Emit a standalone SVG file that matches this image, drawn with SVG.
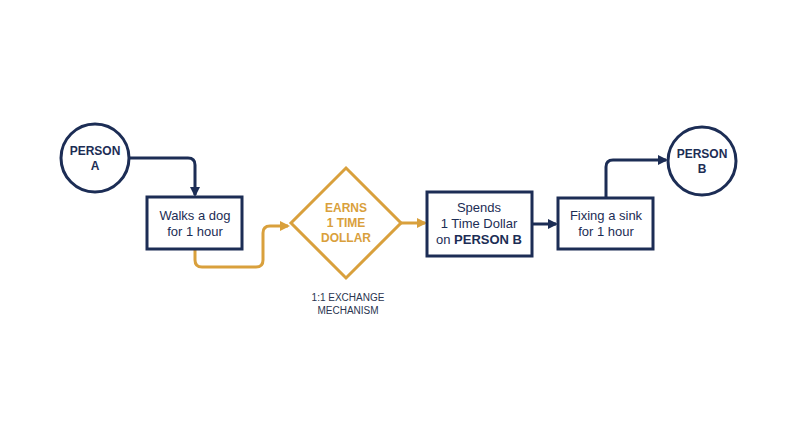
<svg xmlns="http://www.w3.org/2000/svg" width="800" height="447" viewBox="0 0 800 447">
<defs>
<style>
.navy{stroke:#1c2d55;fill:none;stroke-width:3}
.gold{stroke:#d9a03c;fill:none;stroke-width:3}
.node{fill:#fff;stroke:#1c2d55;stroke-width:3}
.t{font-family:"Liberation Sans","Open Sans",sans-serif;font-size:13px;fill:#1c2d55;text-anchor:middle}
.b{font-weight:bold;font-size:12px}
.g{fill:#d9a03c}
.s{font-size:10px;fill:#2a3550}
</style>
<marker id="an" markerWidth="10" markerHeight="10" refX="8" refY="5" orient="auto" markerUnits="userSpaceOnUse"><path d="M0,0 L10,5 L0,10 Z" fill="#1c2d55"/></marker>
<marker id="ag" markerWidth="10" markerHeight="10" refX="8" refY="5" orient="auto" markerUnits="userSpaceOnUse"><path d="M0,0 L10,5 L0,10 Z" fill="#d9a03c"/></marker>
</defs>
<rect width="800" height="447" fill="#fff"/>
<g id="connectors">
<path class="navy" d="M130,158 H188 Q195,158 195,165 V195" marker-end="url(#an)"/>
<path class="gold" d="M195,249 V260 Q195,267 202,267 H256 Q263,267 263,260 V233 Q263,226 270,226 H288" marker-end="url(#ag)"/>
<path class="gold" d="M401,223 H425" marker-end="url(#ag)"/>
<path class="navy" d="M532,224 H556" marker-end="url(#an)"/>
<path class="navy" d="M606,198 V167 Q606,160 613,160 H666" marker-end="url(#an)"/>
</g>
<g id="personA">
<circle class="node" cx="95" cy="158" r="34"/>
<text class="t b" x="95" y="155">PERSON</text>
<text class="t b" x="95" y="170">A</text>
</g>
<g id="walks">
<rect class="node" x="147" y="197" width="95" height="52"/>
<text class="t" x="195" y="220">Walks a dog</text>
<text class="t" x="195" y="236">for 1 hour</text>
</g>
<g id="earns">
<path d="M346,168 L401,223 L346,278 L291,223 Z" fill="#fff" stroke="#d9a03c" stroke-width="3"/>
<text class="t b g" x="346" y="212">EARNS</text>
<text class="t b g" x="346" y="227">1 TIME</text>
<text class="t b g" x="346" y="242">DOLLAR</text>
</g>
<g id="exchange">
<text class="t s" x="348" y="301">1:1 EXCHANGE</text>
<text class="t s" x="348" y="314">MECHANISM</text>
</g>
<g id="spends">
<rect class="node" x="427" y="192" width="105" height="64"/>
<text class="t" x="479" y="212">Spends</text>
<text class="t" x="479" y="228">1 Time Dollar</text>
<text class="t" x="479" y="244">on <tspan class="b" style="font-size:13px">PERSON B</tspan></text>
</g>
<g id="fixing">
<rect class="node" x="558" y="198" width="95" height="51"/>
<text class="t" x="606" y="220">Fixing a sink</text>
<text class="t" x="606" y="236">for 1 hour</text>
</g>
<g id="personB">
<circle class="node" cx="702" cy="161" r="34"/>
<text class="t b" x="702" y="158">PERSON</text>
<text class="t b" x="702" y="173">B</text>
</g>
</svg>
